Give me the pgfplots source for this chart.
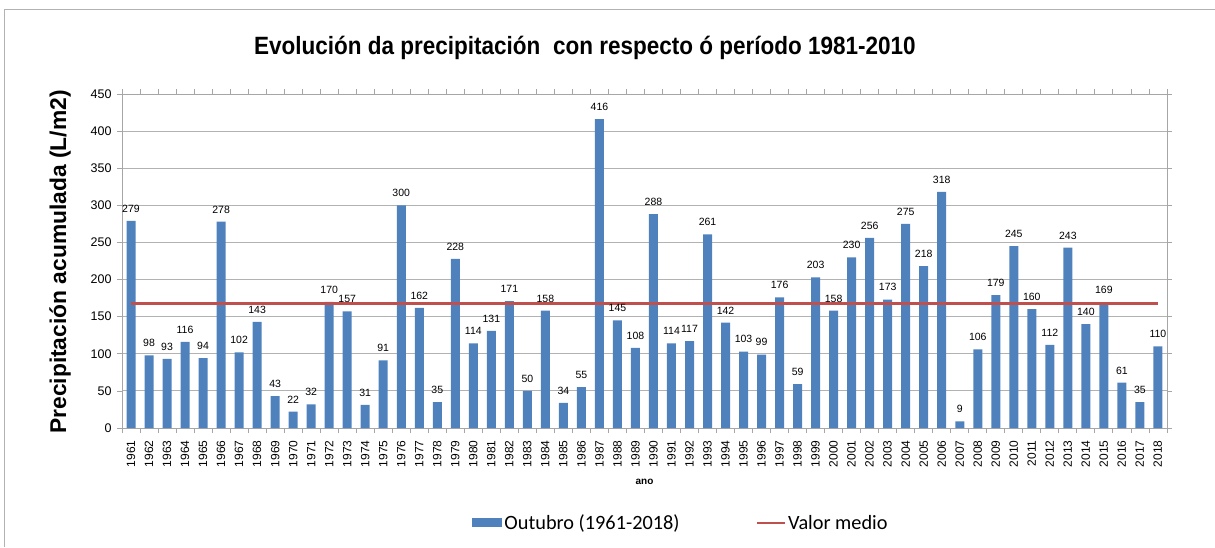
\documentclass[border=0pt]{standalone}
\usepackage{pgfplots}
\pgfplotsset{compat=1.18}
\usepackage{pgfplotstable}
\usepackage{fontspec}
\setmainfont{Liberation Sans}
\newfontfamily\carlito{Carlito}
\definecolor{barblue}{HTML}{4F81BD}
\definecolor{linered}{HTML}{C0504D}
\pgfplotstableread{
year val
1961 279
1962 98
1963 93
1964 116
1965 94
1966 278
1967 102
1968 143
1969 43
1970 22
1971 32
1972 170
1973 157
1974 31
1975 91
1976 300
1977 162
1978 35
1979 228
1980 114
1981 131
1982 171
1983 50
1984 158
1985 34
1986 55
1987 416
1988 145
1989 108
1990 288
1991 114
1992 117
1993 261
1994 142
1995 103
1996 99
1997 176
1998 59
1999 203
2000 158
2001 230
2002 256
2003 173
2004 275
2005 218
2006 318
2007 9
2008 106
2009 179
2010 245
2011 160
2012 112
2013 243
2014 140
2015 169
2016 61
2017 35
2018 110
}\datatable
\pgfplotstableread{
year val
1961 168
2018 168
}\meantable
\begin{document}
\begin{tikzpicture}[x=1pt,y=1pt]
\useasboundingbox (0,0) rectangle (1215,547);
\draw[gray!60, line width=0.8pt] (4,0) -- (4,538) -- (1215,538);
\begin{axis}[
  at={(122pt,119pt)}, anchor=south west,
  scale only axis, width=1045pt, height=334pt,
  xmin=1960.5, xmax=2018.5,
  ymin=0, ymax=450,
  ytick={0,50,...,450},
  xtick={1961,1962,...,2018},
  minor xtick={1960.5,1961.5,...,2018.5},
  /pgf/number format/1000 sep={},
  /pgf/number format/assume math mode=true,
  tick align=outside,
  major tick length=5pt,
  minor tick length=5pt,
  x tick style={draw=none},
  minor x tick style={draw=gray!70, line width=0.6pt},
  y tick style={draw=gray!70, line width=0.6pt},
  axis line style={gray!70, line width=0.8pt},
  ymajorgrids,
  major grid style={gray!60, line width=0.8pt},
  yticklabel style={font=\fontsize{12.5}{14}\selectfont, xshift=-2pt},
  xticklabel style={font=\fontsize{12}{14}\selectfont, rotate=90, anchor=east, xshift=-4pt,
    /pgf/number format/.cd, fixed, precision=0, 1000 sep={}},
  xlabel={\bfseries\fontsize{10}{12}\selectfont ano},
  xlabel style={at={(axis description cs:0.5,-0.16)}, anchor=center},
  ylabel={\bfseries\fontsize{22.8}{26}\selectfont Precipitación acumulada (L/m2)},
  ylabel style={at={(axis description cs:-0.0593,0.497)}, anchor=center},
  title={\scalebox{0.9}[1]{\bfseries\fontsize{25}{28}\selectfont Evolución da precipitación\ \ con respecto ó período 1981-2010}},
  title style={at={(axis description cs:0.443,1.12)}, anchor=center},
  legend columns=2,
  legend style={draw=none, fill=none, at={(axis description cs:0.535,-0.284)}, anchor=center,
    font=\carlito\fontsize{20.3}{22}\selectfont,
    /tikz/every even column/.append style={column sep=75pt}},
  clip=false,
]
\addplot[ybar, bar width=9pt, fill=barblue, draw=none,
  nodes near coords,
  every node near coord/.append style={font=\fontsize{10.5}{12}\selectfont, black, yshift=5pt},
  legend image code/.code={\fill[barblue] (0pt,-4.5pt) rectangle (30pt,4.5pt);}
] table[x=year,y=val]{\datatable};
\addlegendentry{Outubro (1961-2018)}
\addplot[linered, line width=2.6pt,
  legend image code/.code={\draw[linered, line width=1.5pt] (0pt,0pt) -- (28pt,0pt);}
] table[x=year,y=val]{\meantable};
\addlegendentry{Valor medio}
\end{axis}
\end{tikzpicture}
\end{document}
